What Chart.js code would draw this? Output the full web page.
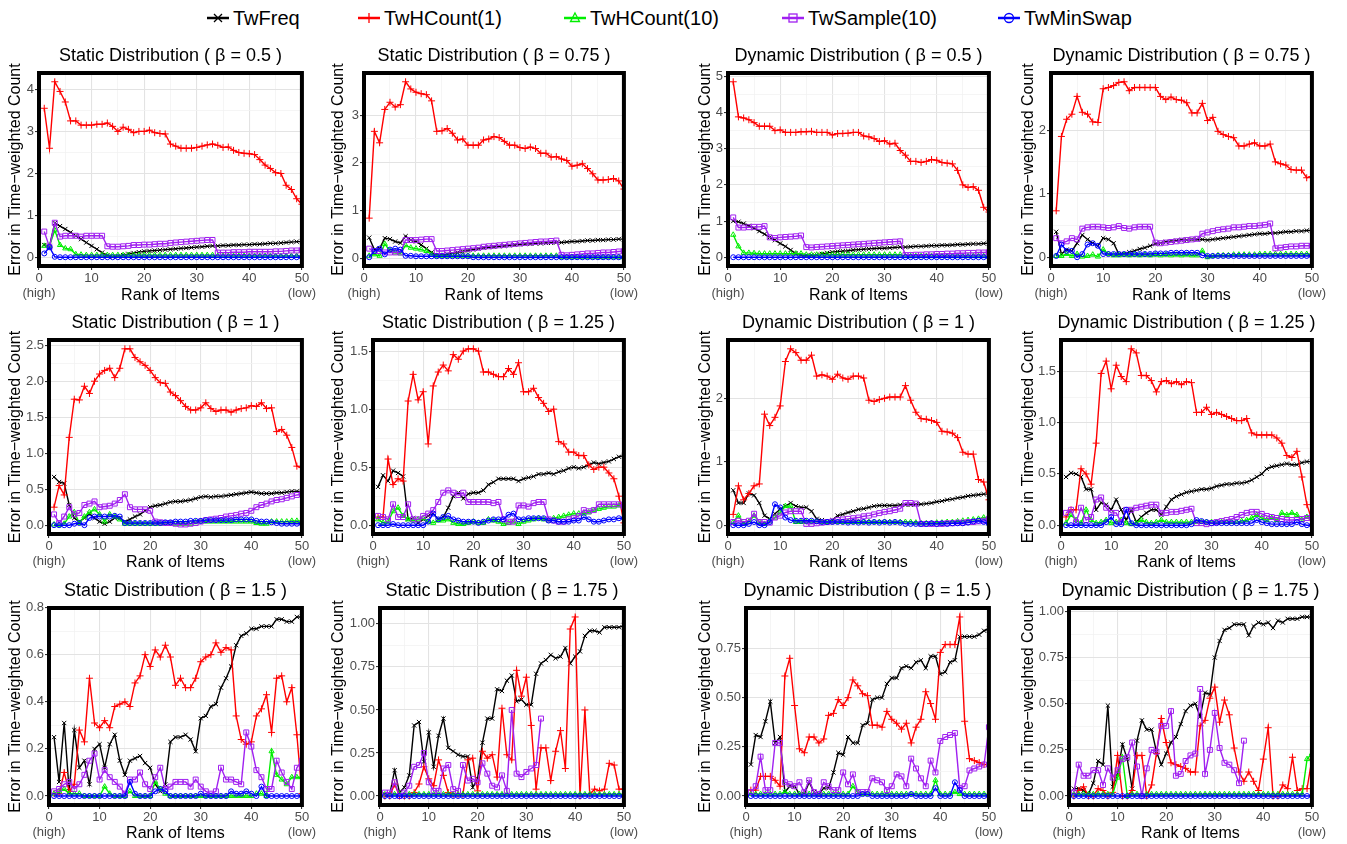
<!DOCTYPE html>
<html>
<head>
<meta charset="utf-8">
<script src="https://cdn.jsdelivr.net/npm/chart.js@4.4.1/dist/chart.umd.min.js"></script>
<style>
body { margin:0; background:#fff; width:1347px; height:844px; position:relative; overflow:hidden; font-family:"Liberation Sans", Arial, Helvetica, sans-serif; }
canvas { position:absolute; }
.leg { position:absolute; top:6px; height:24px; display:flex; align-items:center; font-size:20px; color:#000; white-space:nowrap; }
.leg svg { margin-right:3px; }
</style>
</head>
<body>
<script>
// ranks 1..50 on the x axis
const ranks = [1,2,3,4,5,6,7,8,9,10,11,12,13,14,15,16,17,18,19,20,
  21,22,23,24,25,26,27,28,29,30,31,32,33,34,35,36,37,38,39,40,
  41,42,43,44,45,46,47,48,49,50];

const panelTitles = [
  "Static Distribution ( \u03B2 = 0.5 )", "Static Distribution ( \u03B2 = 0.75 )",
  "Dynamic Distribution ( \u03B2 = 0.5 )", "Dynamic Distribution ( \u03B2 = 0.75 )",
  "Static Distribution ( \u03B2 = 1 )", "Static Distribution ( \u03B2 = 1.25 )",
  "Dynamic Distribution ( \u03B2 = 1 )", "Dynamic Distribution ( \u03B2 = 1.25 )",
  "Static Distribution ( \u03B2 = 1.5 )", "Static Distribution ( \u03B2 = 1.75 )",
  "Dynamic Distribution ( \u03B2 = 1.5 )", "Dynamic Distribution ( \u03B2 = 1.75 )"
];

const yTicks = [
  [0,1,2,3,4], [0,1,2,3], [0,1,2,3,4,5], [0,1,2],
  [0,0.5,1,1.5,2,2.5], [0,0.5,1,1.5], [0,1,2], [0,0.5,1,1.5],
  [0,0.2,0.4,0.6,0.8], [0,0.25,0.5,0.75,1], [0,0.25,0.5,0.75], [0,0.25,0.5,0.75,1]
];
const yDecimals = [0,0,0,0, 1,1,0,1, 1,2,2,2];
const xTicks = [0,10,20,30,40,50];

const seriesNames = ["TwFreq", "TwHCount(1)", "TwHCount(10)", "TwSample(10)", "TwMinSwap"];

const twFreq = [
  // static 0.5
  [0.3,0.28,0.82,0.75,0.68,0.6,0.52,0.44,0.36,0.28,
   0.2,0.12,0.05,0.02,0.03,0.06,0.09,0.11,0.13,0.15,
   0.16,0.17,0.18,0.19,0.2,0.21,0.22,0.23,0.24,0.25,
   0.26,0.27,0.28,0.28,0.29,0.29,0.3,0.3,0.31,0.31,
   0.32,0.32,0.33,0.34,0.34,0.35,0.36,0.37,0.38,0.38],
  // static 0.75
  [0.43,0.18,0.2,0.42,0.4,0.35,0.32,0.46,0.38,0.35,
   0.28,0.2,0.12,0.06,0.06,0.08,0.1,0.12,0.14,0.16,
   0.18,0.2,0.22,0.23,0.24,0.25,0.26,0.27,0.28,0.29,
   0.3,0.3,0.31,0.31,0.32,0.32,0.33,0.33,0.34,0.35,
   0.35,0.36,0.37,0.37,0.38,0.38,0.39,0.39,0.4,0.4],
  // dynamic 0.5
  [1.0,0.98,0.93,0.87,0.8,0.72,0.64,0.55,0.47,0.38,
   0.3,0.2,0.1,0.05,0.04,0.05,0.07,0.09,0.12,0.14,
   0.16,0.17,0.18,0.2,0.21,0.22,0.23,0.24,0.25,0.25,
   0.26,0.27,0.28,0.28,0.29,0.3,0.3,0.31,0.32,0.32,
   0.33,0.33,0.34,0.35,0.35,0.36,0.37,0.37,0.38,0.39],
  // dynamic 0.75
  [0.4,0.05,0.12,0.1,0.22,0.35,0.28,0.22,0.18,0.3,
   0.28,0.22,0.05,0.05,0.08,0.1,0.13,0.15,0.18,0.21,
   0.22,0.24,0.25,0.26,0.27,0.27,0.28,0.28,0.28,0.27,
   0.28,0.29,0.3,0.31,0.32,0.33,0.34,0.35,0.36,0.37,
   0.37,0.38,0.38,0.39,0.4,0.4,0.41,0.41,0.42,0.42],
  // static 1
  [0.67,0.6,0.58,0.28,0.1,0.05,0.1,0.16,0.1,0.05,
   0.02,0.05,0.1,0.1,0.05,0.08,0.12,0.15,0.2,0.25,
   0.27,0.28,0.3,0.32,0.33,0.33,0.34,0.35,0.37,0.39,
   0.4,0.39,0.4,0.4,0.41,0.42,0.43,0.44,0.45,0.46,
   0.45,0.44,0.44,0.44,0.45,0.45,0.46,0.47,0.47,0.47],
  // static 1.25
  [0.33,0.43,0.38,0.47,0.45,0.42,0.05,0.06,0.02,0.05,
   0.08,0.1,0.05,0.07,0.15,0.25,0.28,0.23,0.27,0.28,
   0.28,0.3,0.35,0.37,0.4,0.4,0.4,0.4,0.38,0.4,
   0.41,0.42,0.44,0.44,0.45,0.44,0.46,0.47,0.49,0.5,
   0.49,0.5,0.52,0.54,0.53,0.54,0.55,0.57,0.59,0.6],
  // dynamic 1
  [0.55,0.35,0.35,0.5,0.47,0.35,0.15,0.1,0.18,0.25,
   0.3,0.35,0.3,0.28,0.28,0.22,0.1,0.08,0.05,0.08,
   0.15,0.17,0.2,0.22,0.25,0.26,0.28,0.3,0.31,0.31,
   0.31,0.31,0.32,0.32,0.32,0.33,0.33,0.34,0.35,0.37,
   0.38,0.4,0.41,0.43,0.44,0.46,0.47,0.48,0.49,0.49],
  // dynamic 1.25
  [0.47,0.51,0.5,0.47,0.35,0.35,0.15,0.22,0.2,0.15,
   0.25,0.15,0.05,0.15,0.03,0.08,0.12,0.15,0.15,0.1,
   0.18,0.25,0.28,0.3,0.32,0.33,0.34,0.35,0.35,0.36,
   0.38,0.39,0.4,0.4,0.41,0.41,0.42,0.44,0.47,0.5,
   0.55,0.57,0.58,0.59,0.6,0.59,0.59,0.61,0.62,0.62],
  // static 1.5
  [0.25,0.06,0.31,0.02,0.28,0.12,0.15,0.05,0.2,0.22,
   0.12,0.22,0.26,0.15,0.09,0.15,0.16,0.17,0.14,0.12,
   0.05,0.02,0.05,0.23,0.25,0.25,0.26,0.24,0.19,0.33,
   0.34,0.38,0.39,0.46,0.5,0.55,0.64,0.68,0.69,0.71,
   0.71,0.72,0.72,0.72,0.75,0.75,0.74,0.74,0.76,0.76],
  // static 1.75
  [0.01,0.01,0.15,0.02,0.05,0.12,0.41,0.43,0.2,0.37,
   0.17,0.35,0.45,0.28,0.26,0.24,0.23,0.23,0.05,0.1,
   0.31,0.45,0.45,0.62,0.61,0.67,0.7,0.55,0.56,0.53,
   0.53,0.71,0.77,0.79,0.82,0.8,0.81,0.86,0.77,0.81,
   0.84,0.93,0.96,0.96,0.95,0.98,0.98,0.98,0.98,0.99],
  // dynamic 1.5
  [0.16,0.31,0.3,0.38,0.48,0.27,0.3,0.02,0.05,0.05,
   0.01,0.01,0.07,0.02,0.01,0.04,0.04,0.12,0.22,0.21,
   0.3,0.27,0.27,0.36,0.37,0.49,0.5,0.5,0.57,0.6,
   0.6,0.65,0.66,0.65,0.68,0.69,0.65,0.71,0.71,0.62,
   0.63,0.68,0.69,0.81,0.81,0.81,0.81,0.82,0.84,0.85],
  // dynamic 1.75
  [0.04,0.04,0.03,0.01,0.07,0.19,0.17,0.49,0.05,0.12,
   0.28,0.2,0.04,0.3,0.41,0.36,0.36,0.24,0.17,0.23,
   0.29,0.32,0.39,0.46,0.49,0.5,0.43,0.56,0.55,0.75,
   0.84,0.9,0.91,0.93,0.93,0.93,0.87,0.92,0.94,0.93,
   0.94,0.91,0.95,0.94,0.96,0.96,0.96,0.97,0.97,0.97]
];

const twHCount1 = [
  [3.55,2.6,4.18,3.95,3.7,3.25,3.25,3.15,3.15,3.15,
   3.17,3.17,3.2,3.12,3.0,3.1,3.05,2.97,3.0,3.0,
   3.03,2.97,2.95,2.94,2.7,2.65,2.6,2.6,2.6,2.62,
   2.65,2.68,2.7,2.67,2.62,2.63,2.55,2.5,2.48,2.47,
   2.45,2.33,2.2,2.12,2.02,2.0,1.72,1.62,1.4,1.27],
  [0.84,2.66,2.42,3.12,3.27,3.17,3.22,3.7,3.55,3.48,
   3.45,3.43,3.3,2.66,2.67,2.72,2.62,2.48,2.5,2.37,
   2.37,2.37,2.48,2.5,2.55,2.53,2.45,2.37,2.37,2.32,
   2.3,2.33,2.3,2.2,2.2,2.12,2.13,2.08,2.05,1.93,
   1.95,1.98,1.88,1.77,1.64,1.64,1.65,1.67,1.62,1.45],
  [4.85,3.88,3.85,3.8,3.72,3.62,3.62,3.62,3.5,3.52,
   3.45,3.45,3.45,3.47,3.47,3.48,3.45,3.45,3.45,3.38,
   3.42,3.42,3.43,3.45,3.45,3.35,3.33,3.28,3.2,3.22,
   3.13,3.15,2.95,2.82,2.65,2.65,2.62,2.65,2.7,2.68,
   2.62,2.6,2.58,2.4,2.0,1.93,1.95,1.85,1.38,1.25],
  [0.73,1.9,2.17,2.25,2.53,2.28,2.25,2.13,2.12,2.65,
   2.67,2.7,2.75,2.76,2.62,2.67,2.67,2.67,2.67,2.67,
   2.53,2.48,2.52,2.48,2.47,2.43,2.27,2.27,2.42,2.15,
   2.2,1.98,1.93,1.9,1.88,1.75,1.75,1.78,1.8,1.75,
   1.75,1.78,1.5,1.47,1.45,1.38,1.37,1.37,1.25,1.27],
  [0.25,0.55,0.42,1.22,1.75,1.74,1.93,1.83,2.0,2.1,
   2.15,2.18,2.05,2.18,2.45,2.45,2.33,2.27,2.22,2.15,
   2.05,1.98,1.97,1.85,1.8,1.73,1.65,1.6,1.6,1.63,
   1.7,1.62,1.58,1.6,1.6,1.57,1.6,1.62,1.63,1.66,
   1.65,1.7,1.62,1.63,1.3,1.33,1.25,1.08,0.82,0.8],
  [0.07,0.07,0.57,0.35,0.4,0.38,1.07,1.3,1.08,1.15,
   0.7,1.2,1.32,1.38,1.33,1.47,1.43,1.5,1.52,1.52,
   1.5,1.32,1.32,1.3,1.28,1.28,1.35,1.3,1.4,1.15,
   1.15,1.18,1.1,1.05,0.98,1.0,0.72,0.7,0.63,0.63,
   0.6,0.6,0.52,0.48,0.5,0.5,0.45,0.4,0.25,0.02],
  [0.17,0.62,0.4,0.5,0.62,0.65,1.75,1.57,1.7,1.88,
   2.58,2.78,2.72,2.6,2.6,2.68,2.35,2.37,2.35,2.3,
   2.38,2.32,2.3,2.35,2.35,2.32,1.97,1.95,1.98,2.0,
   2.02,2.02,2.02,2.2,1.97,1.78,1.68,1.67,1.65,1.62,
   1.48,1.47,1.45,1.38,1.15,1.12,1.12,0.72,0.68,0.4],
  [0.08,0.15,0.15,0.55,0.5,0.4,0.8,1.48,1.6,1.33,
   1.56,1.45,1.4,1.72,1.68,1.46,1.46,1.41,1.3,1.4,
   1.41,1.38,1.4,1.37,1.4,1.39,1.1,1.1,1.15,1.08,
   1.1,1.08,1.06,1.04,1.02,1.02,1.04,0.9,0.88,0.88,
   0.88,0.88,0.85,0.8,0.68,0.66,0.72,0.47,0.2,0.05],
  [0.01,0.01,0.1,0.02,0.05,0.28,0.23,0.5,0.31,0.29,
   0.32,0.29,0.38,0.39,0.4,0.38,0.48,0.51,0.6,0.55,
   0.62,0.59,0.64,0.59,0.47,0.5,0.46,0.46,0.5,0.57,
   0.59,0.6,0.65,0.61,0.63,0.62,0.34,0.24,0.22,0.23,
   0.34,0.37,0.43,0.27,0.5,0.51,0.4,0.46,0.26,0.01],
  [0.0,0.0,0.07,0.0,0.0,0.0,0.02,0.07,0.17,0.1,
   0.06,0.21,0.12,0.02,0.01,0.01,0.01,0.21,0.22,0.03,
   0.26,0.22,0.24,0.11,0.51,0.24,0.21,0.73,0.58,0.69,
   0.41,0.04,0.28,0.28,0.09,0.26,0.38,0.16,0.97,1.04,
   0.0,0.5,0.01,0.04,0.03,0.04,0.19,0.18,0.04,0.04],
  [0.03,0.03,0.1,0.1,0.1,0.08,0.05,0.61,0.7,0.46,
   0.24,0.22,0.3,0.3,0.27,0.29,0.41,0.42,0.49,0.46,
   0.5,0.59,0.56,0.52,0.51,0.36,0.36,0.35,0.43,0.39,
   0.37,0.34,0.37,0.27,0.35,0.39,0.53,0.47,0.39,0.73,
   0.77,0.77,0.77,0.91,0.38,0.19,0.18,0.17,0.16,0.16],
  [0.0,0.03,0.05,0.0,0.0,0.04,0.03,0.0,0.02,0.22,
   0.0,0.0,0.03,0.22,0.22,0.0,0.06,0.23,0.42,0.29,
   0.18,0.17,0.16,0.15,0.13,0.13,0.38,0.41,0.53,0.59,
   0.4,0.52,0.44,0.26,0.13,0.08,0.13,0.08,0.03,0.2,
   0.37,0.0,0.0,0.06,0.04,0.21,0.03,0.04,0.04,0.2]
];

const twHCount10 = [
  [0.28,0.28,0.65,0.3,0.22,0.2,0.08,0.07,0.06,0.06,
   0.06,0.06,0.06,0.06,0.06,0.06,0.06,0.06,0.06,0.06,
   0.06,0.06,0.06,0.06,0.06,0.06,0.06,0.06,0.06,0.06,
   0.06,0.06,0.06,0.04,0.04,0.04,0.04,0.04,0.04,0.04,
   0.04,0.04,0.04,0.04,0.04,0.04,0.04,0.04,0.04,0.04],
  [0.05,0.08,0.05,0.3,0.15,0.12,0.1,0.27,0.22,0.2,
   0.18,0.15,0.08,0.05,0.05,0.05,0.05,0.05,0.05,0.05,
   0.05,0.05,0.05,0.05,0.05,0.05,0.05,0.05,0.05,0.05,
   0.05,0.05,0.05,0.05,0.05,0.05,0.05,0.02,0.02,0.02,
   0.02,0.02,0.02,0.02,0.02,0.02,0.02,0.02,0.02,0.02],
  [0.62,0.3,0.12,0.12,0.11,0.1,0.1,0.1,0.1,0.1,
   0.1,0.1,0.1,0.1,0.07,0.07,0.07,0.07,0.07,0.07,
   0.07,0.07,0.07,0.07,0.07,0.07,0.07,0.07,0.07,0.07,
   0.07,0.07,0.07,0.03,0.03,0.03,0.03,0.03,0.03,0.03,
   0.03,0.03,0.03,0.03,0.03,0.03,0.03,0.03,0.03,0.03],
  [0.02,0.02,0.05,0.02,0.05,0.01,0.02,0.04,0.01,0.12,
   0.05,0.03,0.03,0.04,0.03,0.04,0.03,0.04,0.03,0.04,
   0.03,0.04,0.03,0.04,0.03,0.04,0.03,0.03,0.1,0.0,
   0.02,0.03,0.03,0.03,0.04,0.04,0.04,0.04,0.04,0.05,
   0.05,0.05,0.05,0.05,0.05,0.05,0.05,0.05,0.05,0.05],
  [0.01,0.0,0.02,0.12,0.18,0.03,0.12,0.18,0.22,0.15,
   0.05,0.15,0.12,0.08,0.02,0.02,0.02,0.02,0.02,0.02,
   0.02,0.02,0.02,0.02,0.02,0.02,0.02,0.02,0.04,0.05,
   0.05,0.05,0.05,0.05,0.05,0.05,0.05,0.05,0.05,0.05,
   0.03,0.02,0.02,0.05,0.05,0.05,0.05,0.06,0.06,0.06],
  [0.05,0.02,0.03,0.12,0.15,0.08,0.05,0.04,0.05,0.06,
   0.03,0.02,0.04,0.04,0.05,0.02,0.01,0.01,0.02,0.03,
   0.02,0.02,0.05,0.04,0.03,0.01,0.02,0.03,0.01,0.03,
   0.04,0.05,0.06,0.05,0.04,0.06,0.07,0.08,0.09,0.1,
   0.1,0.1,0.11,0.13,0.14,0.15,0.16,0.16,0.17,0.17],
  [0.05,0.15,0.02,0.05,0.15,0.05,0.02,0.06,0.12,0.2,
   0.3,0.3,0.05,0.05,0.05,0.05,0.05,0.05,0.05,0.05,
   0.05,0.05,0.05,0.05,0.05,0.05,0.05,0.05,0.05,0.05,
   0.05,0.05,0.05,0.05,0.05,0.04,0.03,0.03,0.03,0.04,
   0.04,0.05,0.05,0.06,0.07,0.08,0.09,0.1,0.12,0.1],
  [0.02,0.1,0.05,0.02,0.15,0.05,0.02,0.03,0.05,0.02,
   0.03,0.05,0.02,0.01,0.02,0.05,0.03,0.02,0.03,0.05,
   0.03,0.03,0.03,0.03,0.03,0.03,0.03,0.03,0.03,0.03,
   0.03,0.03,0.03,0.03,0.03,0.04,0.05,0.07,0.1,0.07,
   0.05,0.07,0.05,0.12,0.1,0.12,0.1,0.05,0.08,0.1],
  [0.01,0.02,0.03,0.01,0.01,0.01,0.0,0.0,0.0,0.0,
   0.04,0.01,0.0,0.0,0.0,0.02,0.0,0.0,0.0,0.0,
   0.06,0.03,0.01,0.0,0.0,0.0,0.0,0.0,0.0,0.0,
   0.0,0.0,0.0,0.0,0.0,0.0,0.0,0.0,0.0,0.0,
   0.01,0.01,0.0,0.19,0.09,0.07,0.05,0.08,0.08,0.08],
  [0.01,0.01,0.01,0.01,0.01,0.01,0.01,0.01,0.01,0.01,
   0.01,0.01,0.01,0.01,0.01,0.01,0.01,0.01,0.01,0.01,
   0.01,0.01,0.01,0.01,0.01,0.01,0.01,0.01,0.01,0.01,
   0.01,0.01,0.01,0.01,0.01,0.01,0.01,0.01,0.01,0.01,
   0.01,0.01,0.01,0.01,0.01,0.01,0.01,0.01,0.01,0.01],
  [0.01,0.01,0.01,0.01,0.01,0.01,0.01,0.02,0.01,0.01,
   0.01,0.01,0.01,0.01,0.01,0.01,0.01,0.01,0.01,0.01,
   0.01,0.05,0.02,0.01,0.01,0.01,0.01,0.01,0.01,0.01,
   0.01,0.01,0.01,0.01,0.01,0.01,0.01,0.01,0.08,0.01,
   0.01,0.01,0.02,0.01,0.01,0.01,0.01,0.01,0.01,0.01],
  [0.01,0.01,0.01,0.01,0.01,0.01,0.01,0.01,0.01,0.1,
   0.21,0.0,0.01,0.01,0.01,0.01,0.01,0.01,0.01,0.01,
   0.01,0.01,0.01,0.01,0.01,0.01,0.01,0.01,0.01,0.01,
   0.01,0.01,0.01,0.01,0.01,0.01,0.01,0.01,0.01,0.01,
   0.01,0.01,0.01,0.01,0.01,0.01,0.01,0.01,0.2,0.23]
];

const twSample10 = [
  [0.62,0.25,0.83,0.5,0.52,0.52,0.52,0.5,0.52,0.52,
   0.52,0.52,0.27,0.26,0.26,0.27,0.28,0.3,0.3,0.31,
   0.31,0.32,0.33,0.33,0.35,0.36,0.37,0.38,0.39,0.4,
   0.41,0.42,0.42,0.12,0.12,0.12,0.13,0.13,0.13,0.14,
   0.14,0.14,0.14,0.14,0.15,0.15,0.16,0.17,0.17,0.18],
  [0.2,0.15,0.15,0.12,0.12,0.12,0.12,0.38,0.38,0.38,
   0.39,0.4,0.4,0.15,0.15,0.16,0.17,0.18,0.19,0.2,
   0.21,0.22,0.24,0.25,0.26,0.27,0.28,0.29,0.3,0.31,
   0.32,0.33,0.34,0.35,0.35,0.36,0.37,0.07,0.06,0.07,
   0.08,0.09,0.1,0.1,0.11,0.12,0.12,0.13,0.14,0.15],
  [1.1,0.82,0.82,0.83,0.84,0.84,0.86,0.55,0.53,0.55,
   0.56,0.57,0.58,0.6,0.28,0.27,0.28,0.29,0.3,0.31,
   0.32,0.33,0.34,0.35,0.36,0.37,0.38,0.39,0.4,0.41,
   0.42,0.43,0.44,0.06,0.06,0.07,0.07,0.08,0.08,0.09,
   0.09,0.1,0.1,0.11,0.11,0.12,0.12,0.13,0.13,0.14],
  [0.3,0.22,0.25,0.3,0.28,0.45,0.47,0.48,0.48,0.47,
   0.46,0.47,0.49,0.46,0.45,0.47,0.48,0.48,0.48,0.23,
   0.22,0.23,0.24,0.25,0.26,0.27,0.28,0.29,0.37,0.39,
   0.41,0.43,0.44,0.45,0.47,0.47,0.48,0.49,0.49,0.5,
   0.51,0.53,0.14,0.15,0.16,0.17,0.17,0.18,0.18,0.18],
  [0.15,0.03,0.12,0.25,0.15,0.17,0.28,0.3,0.33,0.25,
   0.26,0.27,0.3,0.35,0.43,0.25,0.22,0.22,0.22,0.2,
   0.05,0.04,0.03,0.03,0.02,0.01,0.01,0.02,0.03,0.05,
   0.07,0.08,0.09,0.1,0.12,0.13,0.14,0.16,0.17,0.2,
   0.25,0.28,0.3,0.33,0.35,0.36,0.38,0.4,0.42,0.43],
  [0.08,0.07,0.05,0.18,0.07,0.07,0.18,0.05,0.05,0.08,
   0.1,0.13,0.2,0.28,0.3,0.28,0.26,0.28,0.2,0.2,
   0.2,0.2,0.2,0.19,0.2,0.05,0.03,0.03,0.17,0.17,
   0.16,0.19,0.2,0.2,0.05,0.04,0.03,0.03,0.05,0.06,
   0.08,0.13,0.12,0.13,0.18,0.18,0.18,0.18,0.18,0.16],
  [0.05,0.07,0.05,0.07,0.18,0.05,0.05,0.04,0.12,0.15,
   0.2,0.22,0.22,0.22,0.02,0.02,0.03,0.04,0.05,0.06,
   0.08,0.09,0.1,0.11,0.12,0.14,0.15,0.17,0.19,0.21,
   0.22,0.24,0.26,0.35,0.35,0.34,0.02,0.02,0.02,0.02,
   0.02,0.03,0.03,0.04,0.04,0.05,0.05,0.06,0.07,0.1],
  [0.12,0.15,0.03,0.17,0.05,0.08,0.25,0.27,0.17,0.12,
   0.12,0.03,0.15,0.15,0.17,0.18,0.19,0.2,0.2,0.12,
   0.12,0.13,0.13,0.14,0.15,0.16,0.02,0.02,0.01,0.02,
   0.03,0.04,0.05,0.06,0.08,0.1,0.12,0.13,0.13,0.11,
   0.09,0.08,0.07,0.06,0.05,0.05,0.05,0.06,0.07,0.08],
  [0.02,0.03,0.05,0.06,0.03,0.05,0.09,0.15,0.18,0.07,
   0.11,0.08,0.06,0.04,0.01,0.07,0.07,0.1,0.05,0.03,
   0.08,0.12,0.03,0.04,0.06,0.06,0.06,0.04,0.07,0.04,
   0.02,0.01,0.02,0.12,0.07,0.07,0.06,0.05,0.27,0.21,
   0.11,0.08,0.03,0.03,0.15,0.1,0.06,0.03,0.12,0.15],
  [0.02,0.02,0.08,0.0,0.02,0.06,0.17,0.18,0.25,0.08,
   0.03,0.03,0.16,0.18,0.04,0.03,0.18,0.09,0.1,0.08,
   0.19,0.13,0.06,0.05,0.12,0.03,0.5,0.13,0.11,0.14,
   0.16,0.18,0.45,null,null,null,null,null,null,null,
   null,null,null,null,null,null,null,null,null,null],
  [0.02,0.05,0.2,0.03,0.03,0.27,0.27,0.07,0.06,0.05,
   0.07,0.02,0.08,0.02,0.01,0.07,0.05,0.03,0.03,0.12,
   0.06,0.11,0.02,0.02,0.02,0.09,0.08,0.07,0.03,0.05,
   0.11,0.1,0.05,0.19,0.14,0.09,0.05,0.18,0.12,0.28,
   0.3,0.31,0.32,0.04,0.05,0.13,0.14,0.15,0.16,0.35],
  [0.02,0.17,0.11,0.11,0.14,0.14,0.06,0.15,0.1,0.14,
   0.2,0.21,0.29,0.16,0.0,0.15,0.25,0.24,0.38,0.38,
   0.46,0.11,0.12,0.19,0.22,0.23,0.58,0.12,0.25,0.45,
   0.26,0.18,0.17,0.14,0.07,0.3,null,null,null,null,
   null,null,null,null,null,null,null,null,null,null]
];

const twMinSwap = [
  [0.1,0.25,0.02,0.01,0.01,0.01,0.01,0.01,0.01,0.01,
   0.01,0.01,0.01,0.01,0.01,0.01,0.01,0.01,0.01,0.01,
   0.01,0.01,0.01,0.01,0.01,0.01,0.01,0.01,0.01,0.01,
   0.01,0.01,0.01,0.01,0.01,0.01,0.01,0.01,0.01,0.01,
   0.01,0.01,0.01,0.01,0.01,0.01,0.01,0.01,0.01,0.01],
  [0.02,0.15,0.2,0.08,0.18,0.2,0.18,0.05,0.05,0.04,
   0.04,0.04,0.04,0.04,0.04,0.04,0.04,0.04,0.04,0.04,
   0.02,0.02,0.02,0.02,0.02,0.02,0.02,0.02,0.02,0.02,
   0.02,0.02,0.02,0.02,0.02,0.02,0.02,0.02,0.02,0.02,
   0.02,0.02,0.02,0.02,0.02,0.02,0.02,0.02,0.02,0.02],
  [0,0,0,0,0,0,0,0,0,0, 0,0,0,0,0,0,0,0,0,0,
   0,0,0,0,0,0,0,0,0,0, 0,0,0,0,0,0,0,0,0,0,
   0,0,0,0,0,0,0,0,0,0],
  [0.02,0.2,0.1,0.1,0.0,0.05,0.2,0.22,0.18,0.05,
   0.05,0.05,0.05,0.05,0.05,0.05,0.05,0.05,0.05,0.06,
   0.06,0.06,0.07,0.07,0.07,0.07,0.07,0.07,0.03,0.02,
   0.02,0.02,0.02,0.02,0.02,0.02,0.02,0.02,0.02,0.02,
   0.02,0.02,0.02,0.02,0.02,0.02,0.02,0.02,0.02,0.02],
  [0.0,0.0,0.0,0.0,0.02,0.03,0.0,0.1,0.12,0.12,
   0.12,0.12,0.13,0.12,0.03,0.03,0.03,0.03,0.03,0.03,
   0.03,0.03,0.04,0.04,0.05,0.05,0.05,0.06,0.06,0.06,
   0.07,0.07,0.07,0.07,0.07,0.07,0.08,0.08,0.08,0.08,
   0.06,0.05,0.05,0.04,0.03,0.02,0.02,0.02,0.02,0.02],
  [0.0,0.0,0.0,0.01,0.0,0.0,0.0,0.0,0.0,0.0,
   0.03,0.1,0.05,0.07,0.08,0.05,0.04,0.03,0.03,0.03,
   0.02,0.03,0.04,0.05,0.05,0.05,0.09,0.1,0.05,0.05,
   0.06,0.06,0.06,0.06,0.04,0.04,0.03,0.03,0.03,0.04,
   0.04,0.07,0.05,0.03,0.03,0.04,0.05,0.05,0.06,0.06],
  [0.0,0.0,0.0,0.02,0.05,0.0,0.0,0.05,0.33,0.28,
   0.12,0.08,0.07,0.07,0.07,0.07,0.06,0.05,0.05,0.05,
   0.05,0.05,0.04,0.05,0.04,0.05,0.04,0.05,0.04,0.05,
   0.04,0.05,0.04,0.02,0.02,0.02,0.02,0.02,0.03,0.02,
   0.03,0.02,0.03,0.03,0.03,0.04,0.06,0.07,0.05,0.02],
  [0.0,0.0,0.0,0.0,0.0,0.0,0.0,0.0,0.03,0.08,
   0.01,0.01,0.15,0.02,0.0,0.0,0.0,0.0,0.0,0.0,
   0.0,0.0,0.0,0.0,0.0,0.01,0.05,0.04,0.03,0.02,
   0.02,0.02,0.02,0.02,0.02,0.02,0.02,0.02,0.05,0.03,
   0.02,0.01,0.01,0.01,0.01,0.01,0.03,0.01,0.0,0.0],
  [0,0,0,0,0,0,0,0,0,0,
   0,0,0,0,0,0.06,0.01,0,0,0,
   0.02,0.03,0.02,0,0,0,0,0,0,0.01,
   0,0,0,0,0,0.02,0.01,0.01,0.02,0.01,
   0,0.04,0,0,0,0,0,0,0,0],
  [0,0,0,0,0,0,0,0,0,0, 0,0,0,0,0,0,0,0,0,0,
   0,0,0,0,0,0,0,0,0,0, 0,0,0,0,0,0,0,0,0,0,
   0,0,0,0,0,0,0,0,0,0],
  [0,0,0,0,0,0,0,0,0,0,
   0,0,0,0,0,0,0,0,0,0,
   0,0,0,0.01,0.01,0,0,0,0,0,
   0,0,0,0.01,0,0,0,0,0.04,0,
   0,0,0.07,0.03,0,0,0,0,0,0],
  [0,0,0,0,0,0,0,0,0,0, 0,0,0,0,0,0,0,0,0,0,
   0,0,0,0,0,0,0,0,0,0, 0,0,0,0,0,0,0,0,0,0,
   0,0,0,0,0,0,0,0,0,0]
];

const allSeries = [twFreq, twHCount1, twHCount10, twSample10, twMinSwap];
const seriesStyle = [
  { color: "#000000", shape: "crossRot", r: 3 },
  { color: "#ff0000", shape: "cross", r: 3.5 },
  { color: "#00ee00", shape: "triangle", r: 3 },
  { color: "#a020f0", shape: "rect", r: 3.5 },
  { color: "#0000ff", shape: "circle", r: 2.5 }
];

// page layout (pixels)
const colCanvasLeft = [6, 329, 696, 1019];
const colRight = [311, 633, 998, 1321];
const areaLeft = [39, 364, 728, 1051, 49, 373, 728, 1061, 49, 380, 746, 1069];
const rowTop = [73, 340, 608];
const rowBottom = [266, 534, 805];
const rowCanvasBottom = [305, 572, 843];

const FONT = '"Liberation Sans", Arial, Helvetica, sans-serif';
Chart.defaults.font.family = FONT;

const framePlugin = {
  id: "frame",
  afterDraw(chart, args, opts) {
    const { ctx, chartArea: a } = chart;
    ctx.save();
    ctx.fillStyle = "#000";
    ctx.font = "18px " + FONT;
    ctx.textAlign = "center";
    ctx.textBaseline = "middle";
    ctx.fillText(opts.title, (a.left + a.right) / 2, a.top - 16.5);
    ctx.lineWidth = 4;
    ctx.strokeStyle = "#000";
    ctx.strokeRect(a.left, a.top, a.right - a.left, a.bottom - a.top);
    ctx.restore();
  }
};

function withMinors(majors) {
  const out = [];
  majors.forEach((v, i) => {
    out.push({ value: v, major: true });
    if (i < majors.length - 1) out.push({ value: (v + majors[i + 1]) / 2, major: false });
  });
  return out;
}

const gridOpts = {
  color: c => (c.tick && c.tick.major ? "#e3e3e3" : "#f2f2f2"),
  lineWidth: c => (c.tick && c.tick.major ? 1.1 : 0.8),
  tickColor: c => (c.tick && c.tick.major ? "#333333" : "rgba(0,0,0,0)"),
  tickLength: 4
};

function makePanel(i) {
  const row = Math.floor(i / 4), col = i % 4;
  const L = areaLeft[i], R = colRight[col], T = rowTop[row], B = rowBottom[row];
  const cl = colCanvasLeft[col], ct = T - 36, cb = rowCanvasBottom[row], cr = R + 6;

  const canvas = document.createElement("canvas");
  canvas.width = cr - cl;
  canvas.height = cb - ct;
  canvas.style.left = cl + "px";
  canvas.style.top = ct + "px";
  document.body.appendChild(canvas);

  const vals = [];
  allSeries.forEach(s => s[i].forEach(v => { if (v !== null) vals.push(v); }));
  const lo = Math.min(...vals), hi = Math.max(...vals);
  const pad = (hi - lo) * 0.05;
  const dec = yDecimals[i];

  new Chart(canvas, {
    type: "line",
    data: {
      labels: ranks,
      datasets: allSeries.map((s, k) => ({
        label: seriesNames[k],
        data: s[i],
        borderColor: seriesStyle[k].color,
        backgroundColor: "rgba(0,0,0,0)",
        borderWidth: 1.4,
        pointStyle: seriesStyle[k].shape,
        pointRadius: seriesStyle[k].r,
        pointBorderWidth: 1,
        pointBorderColor: seriesStyle[k].color,
        pointBackgroundColor: "rgba(0,0,0,0)",
        tension: 0,
        order: 5 - k
      }))
    },
    options: {
      responsive: false,
      animation: false,
      devicePixelRatio: 1,
      events: [],
      layout: { padding: { top: T - ct, right: cr - R, left: 0, bottom: 0 } },
      plugins: {
        legend: { display: false },
        tooltip: { enabled: false },
        frame: { title: panelTitles[i] }
      },
      scales: {
        x: {
          type: "linear",
          min: 0,
          max: 50,
          afterFit: s => { s.height = cb - B; },
          afterBuildTicks: s => { s.ticks = withMinors(xTicks); },
          border: { display: false },
          grid: gridOpts,
          ticks: {
            autoSkip: false,
            maxRotation: 0,
            padding: 1,
            color: "#4d4d4d",
            font: { size: 13, lineHeight: 1.15 },
            callback: (v, idx, ticks) => {
              if (!ticks[idx].major) return "";
              if (v === 0) return ["0", "(high)"];
              if (v === 50) return ["50", "(low)"];
              return String(v);
            }
          },
          title: {
            display: true,
            text: "Rank of Items",
            color: "#000",
            font: { size: 16, lineHeight: 1.2 },
            padding: { top: 0, bottom: 0 }
          }
        },
        y: {
          min: lo - pad,
          max: hi + pad,
          afterFit: s => { s.width = L - cl; },
          afterBuildTicks: s => { s.ticks = withMinors(yTicks[i]); },
          border: { display: false },
          grid: gridOpts,
          ticks: {
            autoSkip: false,
            padding: 1,
            color: "#4d4d4d",
            font: { size: 13 },
            callback: (v, idx, ticks) => (ticks[idx].major ? v.toFixed(dec) : "")
          },
          title: {
            display: true,
            text: "Error in Time\u2212weighted Count",
            color: "#000",
            font: { size: 16, lineHeight: 1.2 },
            padding: { top: 0, bottom: 0 }
          }
        }
      }
    },
    plugins: [framePlugin]
  });
}

for (let i = 0; i < 12; i++) makePanel(i);

// legend across the top
function markerSvg(shape, color) {
  const c = 12, m = 8;
  let mk = "";
  if (shape === "crossRot") mk = `<path d="M${c-4} ${m-4}L${c+4} ${m+4}M${c-4} ${m+4}L${c+4} ${m-4}" stroke="${color}" stroke-width="1.3"/>`;
  if (shape === "cross") mk = `<path d="M${c} ${m-5}L${c} ${m+5}" stroke="${color}" stroke-width="1.3"/>`;
  if (shape === "triangle") mk = `<path d="M${c} ${m-5}L${c+4.5} ${m+3.5}L${c-4.5} ${m+3.5}Z" fill="none" stroke="${color}" stroke-width="1.3"/>`;
  if (shape === "rect") mk = `<rect x="${c-4}" y="${m-4}" width="8" height="8" fill="none" stroke="${color}" stroke-width="1.3"/>`;
  if (shape === "circle") mk = `<circle cx="${c}" cy="${m}" r="4.5" fill="none" stroke="${color}" stroke-width="1.3"/>`;
  return `<svg width="24" height="16"><path d="M1 ${m}L23 ${m}" stroke="${color}" stroke-width="2.5"/>${mk}</svg>`;
}
const legendLeft = [206, 357, 563, 781, 997];
seriesNames.forEach((name, k) => {
  const d = document.createElement("div");
  d.className = "leg";
  d.style.left = legendLeft[k] + "px";
  d.innerHTML = markerSvg(seriesStyle[k].shape, seriesStyle[k].color) + "<span>" + name + "</span>";
  document.body.appendChild(d);
});
</script>
</body>
</html>
